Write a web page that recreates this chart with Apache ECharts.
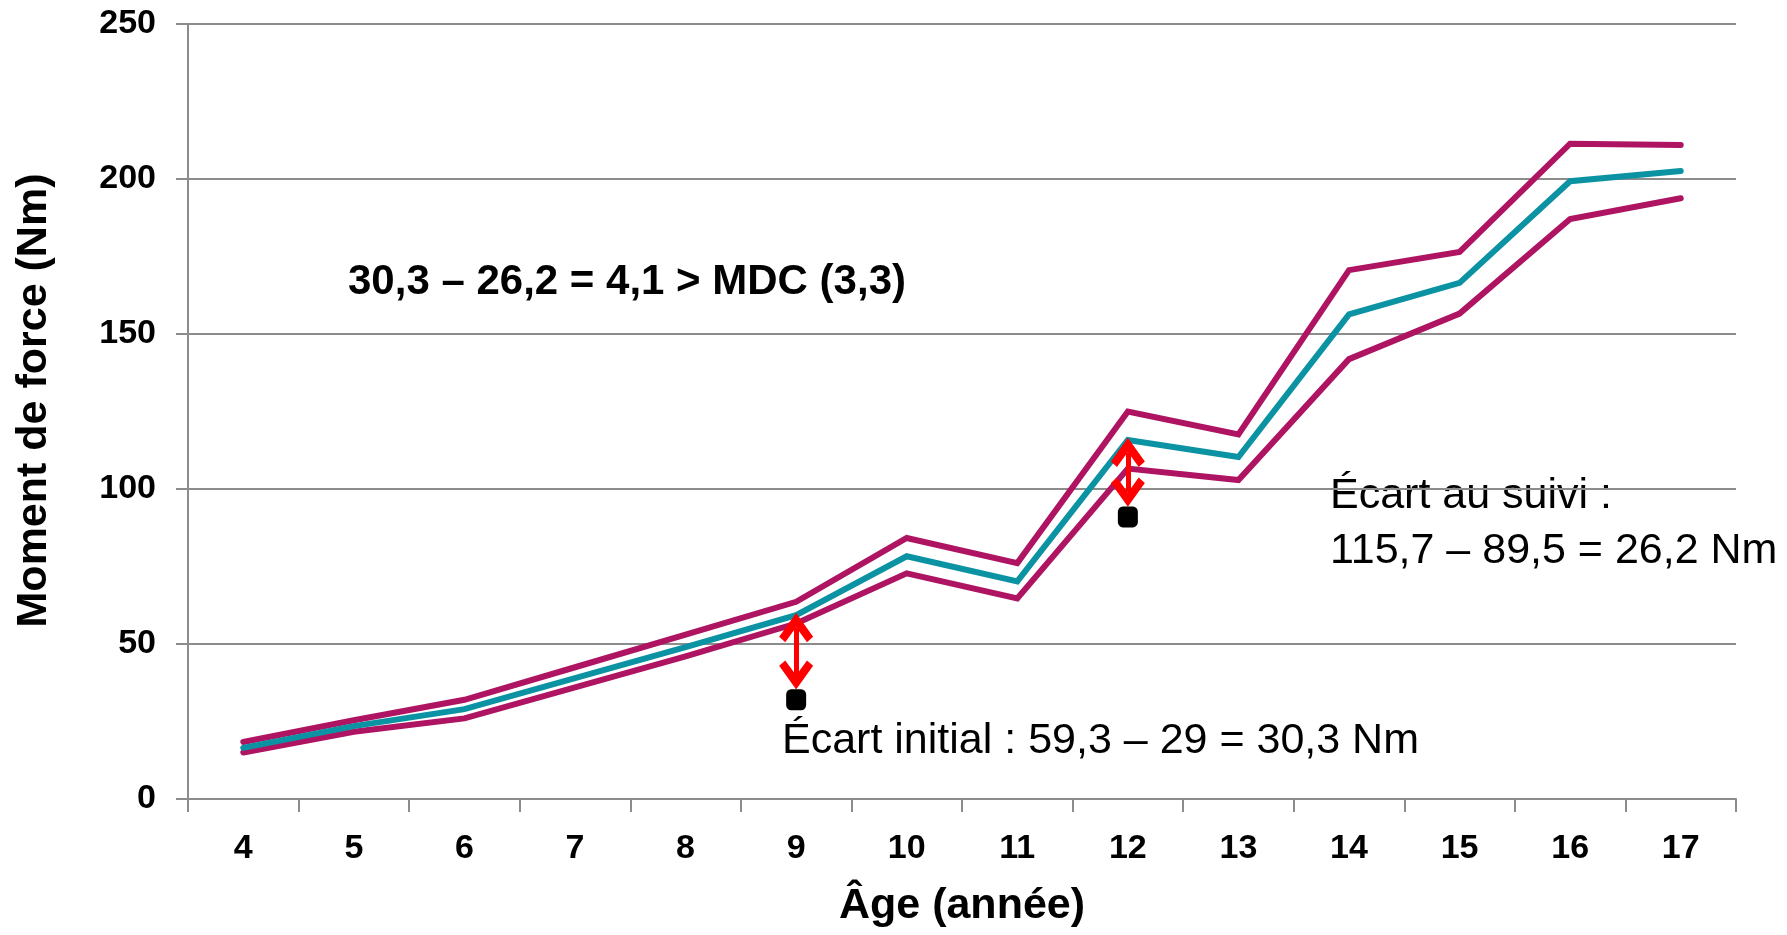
<!DOCTYPE html>
<html>
<head>
<meta charset="utf-8">
<script src="https://cdn.jsdelivr.net/npm/echarts@6/dist/echarts.min.js"></script>
<style>
  html, body { margin: 0; padding: 0; background: #fff; }
  #main { width: 1787px; height: 935px; }
</style>
</head>
<body>
<div id="main"></div>
<script>
// données
var ages = ["4", "5", "6", "7", "8", "9", "10", "11", "12", "13", "14", "15", "16", "17"];
var courbeHaute = [18.4, 25.4, 32, 42.5, 53, 63.6, 84.2, 76.1, 125, 117.6, 170.6, 176.5, 211.4, 211];
var courbeMoyenne = [16.5, 23.5, 29, 39, 49, 59.3, 78.3, 70.2, 115.8, 110.3, 156.3, 166.5, 199.3, 202.6];
var courbeBasse = [15, 21.7, 26, 36, 46, 56.6, 72.8, 64.7, 106.6, 102.9, 141.9, 156.6, 187.1, 193.8];
var pointsAges = ["9", "12"];
var pointsValeurs = [32, 91];
var yTicks = [0, 50, 100, 150, 200, 250];

var chart = echarts.init(document.getElementById("main"));

var fontTxt = "'Liberation Sans', Arial, sans-serif";
var violet = "#AE1462";
var sarcelle = "#0C93A3";

// points du patient + flèches rouges (de la courbe moyenne au point)
var pointData = [];
var fleches = [];
for (var i = 0; i < pointsAges.length; i++) {
  pointData.push([pointsAges[i], pointsValeurs[i]]);
  var idx = ages.indexOf(pointsAges[i]);
  // la pointe dépasse l'extrémité de la demi-hauteur du symbole, on raccourcit
  fleches.push([
    { coord: [pointsAges[i], courbeMoyenne[idx] - 4] },
    { coord: [pointsAges[i], pointsValeurs[i] + 8] },
  ]);
}

// pointe de flèche ouverte (chevron)
var chevron = "path://M5,0 L10,7 L8.2,8.6 L5,4.2 L1.8,8.6 L0,7 Z";

var option = {
  animation: false,
  grid: {
    left: 188,
    right: 51,
    top: 24,
    bottom: 136,
  },
  xAxis: {
    type: "category",
    data: ages,
    boundaryGap: true,
    name: "Âge (année)",
    nameLocation: "middle",
    nameGap: 86,
    nameTextStyle: {
      fontFamily: fontTxt,
      fontWeight: "bold",
      fontSize: 43,
      color: "#000",
    },
    axisLine: { lineStyle: { color: "#8c8c8c", width: 2 } },
    axisTick: { show: true, length: 13, lineStyle: { color: "#8c8c8c", width: 2 } },
    axisLabel: {
      margin: 33,
      fontFamily: fontTxt,
      fontWeight: "bold",
      fontSize: 34,
      color: "#000",
    },
  },
  yAxis: {
    type: "value",
    min: yTicks[0],
    max: yTicks[yTicks.length - 1],
    interval: yTicks[1] - yTicks[0],
    name: "Moment de force (Nm)",
    nameLocation: "middle",
    nameGap: 132,
    nameTextStyle: {
      fontFamily: fontTxt,
      fontWeight: "bold",
      fontSize: 43,
      color: "#000",
      padding: [0, 0, 0, 22],
    },
    axisLine: { show: true, lineStyle: { color: "#8c8c8c", width: 2 } },
    axisTick: { show: true, length: 12, lineStyle: { color: "#8c8c8c", width: 2 } },
    splitLine: { show: true, lineStyle: { color: "#8c8c8c", width: 2 } },
    axisLabel: {
      margin: 32,
      fontFamily: fontTxt,
      fontWeight: "bold",
      fontSize: 34,
      color: "#000",
    },
  },
  series: [
    {
      name: "haute",
      type: "line",
      data: courbeHaute,
      showSymbol: false,
      silent: true,
      lineStyle: { color: violet, width: 6, cap: "round", join: "miter" },
    },
    {
      name: "basse",
      type: "line",
      data: courbeBasse,
      showSymbol: false,
      silent: true,
      lineStyle: { color: violet, width: 6, cap: "round", join: "miter" },
    },
    {
      name: "moyenne",
      type: "line",
      data: courbeMoyenne,
      showSymbol: false,
      silent: true,
      lineStyle: { color: sarcelle, width: 6, cap: "round", join: "miter" },
    },
    {
      name: "patient",
      type: "scatter",
      data: pointData,
      symbol: "roundRect",
      symbolSize: [20, 21],
      itemStyle: { color: "#000", opacity: 1 },
      silent: true,
      z: 5,
      markLine: {
        silent: true,
        symbol: [chevron, chevron],
        symbolSize: 34,
        symbolKeepAspect: true,
        label: { show: false },
        lineStyle: { color: "#ff0000", width: 5, type: "solid", opacity: 1 },
        itemStyle: { color: "#ff0000" },
        data: fleches,
      },
    },
  ],
  graphic: [
    {
      type: "text",
      left: 348,
      top: 261,
      style: {
        text: "30,3 – 26,2 = 4,1 > MDC (3,3)",
        fontFamily: fontTxt,
        fontWeight: "bold",
        fontSize: 42,
        fill: "#000",
      },
    },
    {
      type: "text",
      left: 782,
      top: 720,
      style: {
        text: "Écart initial : 59,3 – 29 = 30,3 Nm",
        fontFamily: fontTxt,
        fontSize: 43,
        fill: "#000",
      },
    },
    {
      type: "text",
      left: 1330,
      top: 475,
      style: {
        text: "Écart au suivi :",
        fontFamily: fontTxt,
        fontSize: 43,
        fill: "#000",
      },
    },
    {
      type: "text",
      left: 1330,
      top: 530,
      style: {
        text: "115,7 – 89,5 = 26,2 Nm",
        fontFamily: fontTxt,
        fontSize: 43,
        fill: "#000",
      },
    },
  ],
};

chart.setOption(option);
</script>
</body>
</html>
